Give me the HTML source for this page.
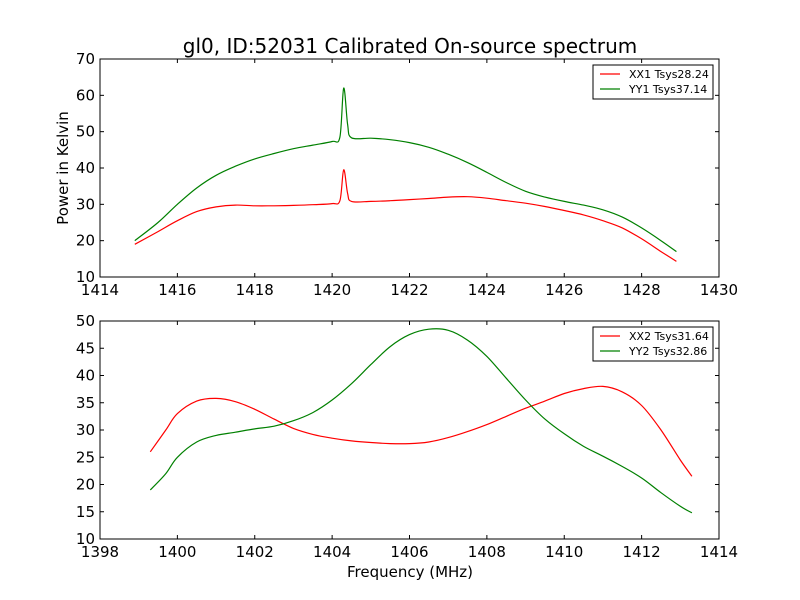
<!DOCTYPE html>
<html><head><meta charset="utf-8"><style>
body{margin:0;background:#fff}
svg{display:block;font-family:"DejaVu Sans","Liberation Sans",sans-serif}
</style></head><body>
<svg id="c" width="800" height="600"></svg>
<script>
const topXX1x=[1414.9,1415.5,1416,1416.5,1417,1417.5,1418,1418.5,1419,1419.5,1420,1420.2,1420.3,1420.4,1420.5,1421,1421.5,1422,1422.5,1423,1423.5,1424,1424.5,1425,1425.5,1426,1426.5,1427,1427.5,1428,1428.5,1428.9];
const topXX1y=[19,22.5,25.5,28,29.3,29.8,29.6,29.6,29.7,29.9,30.2,31,39.5,33,30.8,30.8,31,31.3,31.6,32,32.1,31.7,31,30.3,29.4,28.3,27.1,25.5,23.5,20.5,17,14.3];
const topYY1y=[20,25,30,34.5,38,40.5,42.5,44,45.3,46.3,47.3,48.5,62,52,48.3,48.2,47.8,47,45.7,43.8,41.5,38.8,36,33.6,32,30.8,29.8,28.5,26.5,23.5,20,17];
const botX=[1399.3,1399.7,1400,1400.5,1401,1401.5,1402,1402.5,1403,1403.5,1404,1404.5,1405,1405.5,1406,1406.5,1407,1407.5,1408,1408.5,1409,1409.5,1410,1410.5,1411,1411.5,1412,1412.5,1413,1413.3];
const botXX2y=[26,30,33,35.3,35.8,35.2,33.8,32,30.3,29.2,28.5,28,27.7,27.5,27.5,27.8,28.6,29.7,31,32.5,34,35.3,36.7,37.6,38,37,34.5,30,24.5,21.5];
const botYY2y=[19,22,25,27.8,29,29.6,30.2,30.7,31.7,33.2,35.5,38.5,42,45.3,47.5,48.5,48.3,46.5,43.5,39.5,35.5,32,29.3,27,25.2,23.3,21.2,18.5,16,14.8];
const topXTicks=[1414,1416,1418,1420,1422,1424,1426,1428,1430];
const topYTicks=[10,20,30,40,50,60,70];
const botXTicks=[1398,1400,1402,1404,1406,1408,1410,1412,1414];
const botYTicks=[10,15,20,25,30,35,40,45,50];
const legTop=["XX1 Tsys28.24","YY1 Tsys37.14"];
const legBot=["XX2 Tsys31.64","YY2 Tsys32.86"];

const svg=document.getElementById('c');
const NS='http://www.w3.org/2000/svg';
function mk(tag,attrs,parent,txt){const e=document.createElementNS(NS,tag);for(const k in attrs)e.setAttribute(k,attrs[k]);if(txt!==undefined)e.textContent=txt;(parent||svg).appendChild(e);return e;}
function smooth(pts){
  let d='M'+pts[0][0].toFixed(1)+','+pts[0][1].toFixed(1);
  for(let i=0;i<pts.length-1;i++){
    const p0=pts[Math.max(0,i-1)],p1=pts[i],p2=pts[i+1],p3=pts[Math.min(pts.length-1,i+2)];
    const c1=[p1[0]+(p2[0]-p0[0])/6,p1[1]+(p2[1]-p0[1])/6];
    const c2=[p2[0]-(p3[0]-p1[0])/6,p2[1]-(p3[1]-p1[1])/6];
    d+=' C'+c1[0].toFixed(1)+','+c1[1].toFixed(1)+' '+c2[0].toFixed(1)+','+c2[1].toFixed(1)+' '+p2[0].toFixed(1)+','+p2[1].toFixed(1);
  }
  return d;
}
function panel(name,y0,y1,xmin,xmax,ymin,ymax,xt,yt,series,leg,legY){
  const L=100,R=719;
  const sx=v=>L+(v-xmin)/(xmax-xmin)*(R-L);
  const sy=v=>y1-(v-ymin)/(ymax-ymin)*(y1-y0);
  const g=mk('g',{});
  
  
  series.forEach(s=>{
    const p=mk('path',{d:smooth(s.x.map((x,i)=>[sx(x),sy(s.y[i])])),fill:'none',stroke:s.c,'stroke-width':1.2},g);
    
    
  });
  const fr=mk('rect',{x:L,y:y0,width:R-L,height:y1-y0,fill:'none',stroke:'#000','stroke-width':1},g);
  
  
  xt.forEach(v=>{const x=sx(v);
    mk('line',{x1:x,x2:x,y1:y1,y2:y1-4,stroke:'#000'},g);mk('line',{x1:x,x2:x,y1:y0,y2:y0+4,stroke:'#000'},g);
    const t=mk('text',{x:x,y:y1+18,'font-size':15,'text-anchor':'middle'},g,v);
    
    });
  yt.forEach(v=>{const y=sy(v);
    mk('line',{x1:L,x2:L+4,y1:y,y2:y,stroke:'#000'},g);mk('line',{x1:R,x2:R-4,y1:y,y2:y,stroke:'#000'},g);
    const t=mk('text',{x:L-5,y:y+5,'font-size':15,'text-anchor':'end'},g,v);
    
    });
  const lg=mk('g',{},g);
  
  
  mk('rect',{x:593,y:legY,width:120,height:34,fill:'#fff',stroke:'#000'},lg);
  leg.forEach((s,i)=>{const yy=legY+9+i*15;
    mk('line',{x1:600,x2:620,y1:yy,y2:yy,stroke:series[i].c,'stroke-width':1.2},lg);
    const t=mk('text',{x:629,y:yy+4,'font-size':11},lg,s);
    
    });
}
panel('top',59,277,1414,1430,10,70,topXTicks,topYTicks,
 [{x:topXX1x,y:topXX1y,c:'#ff0000',n:'xx1'},{x:topXX1x,y:topYY1y,c:'#008000',n:'yy1'}],legTop,65);
panel('bottom',321,539,1398,1414,10,50,botXTicks,botYTicks,
 [{x:botX,y:botXX2y,c:'#ff0000',n:'xx2'},{x:botX,y:botYY2y,c:'#008000',n:'yy2'}],legBot,327);
let t=mk('text',{x:410,y:53,'font-size':20,'text-anchor':'middle'},svg,'gl0, ID:52031 Calibrated On-source spectrum');


t=mk('text',{x:410,y:577,'font-size':15,'text-anchor':'middle'},svg,'Frequency (MHz)');


t=mk('text',{x:68,y:168,'font-size':15,'text-anchor':'middle',transform:'rotate(-90 68 168)'},svg,'Power in Kelvin');


</script>
</body></html>
